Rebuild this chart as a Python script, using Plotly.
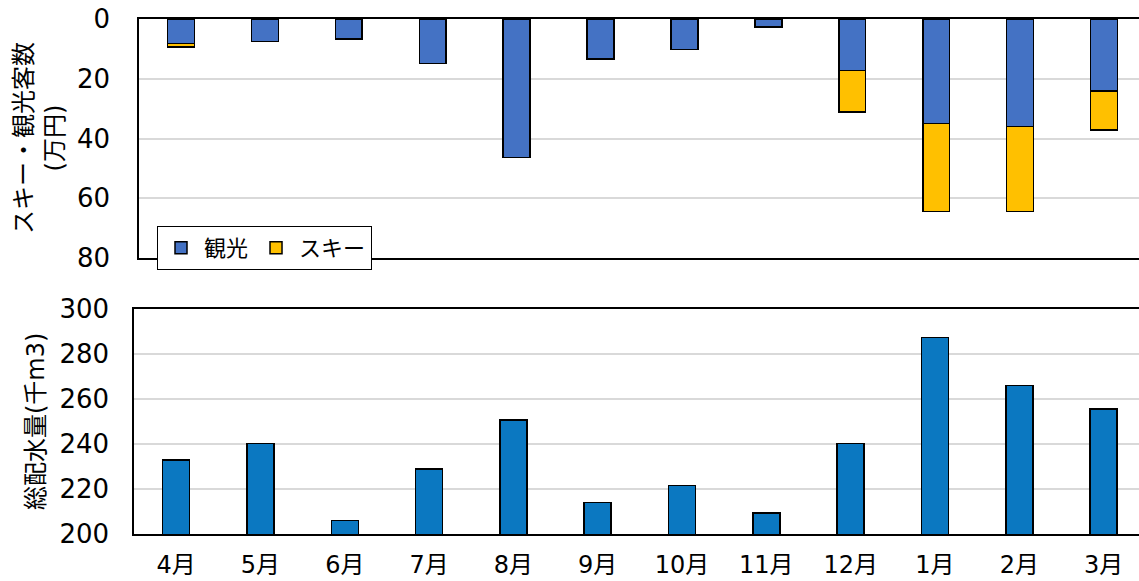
import plotly.graph_objects as go

months = ["4月", "5月", "6月", "7月", "8月", "9月", "10月", "11月", "12月", "1月", "2月", "3月"]
kanko = [8.2, 7.6, 6.7, 14.9, 46.4, 13.4, 10.2, 2.6, 17.3, 35.0, 36.0, 24.1]
ski = [1.1, 0, 0, 0, 0, 0, 0, 0, 13.8, 29.4, 28.4, 13.1]
water = [233.0, 240.3, 205.9, 228.9, 250.6, 214.0, 221.5, 209.3, 240.3, 287.3, 266.1, 255.5]

top_title = "スキー・観光客数<br>(万円)"
bottom_title = "総配水量(千m3)"

FONT = "DejaVu Sans, Noto Sans CJK JP"
W, H = 1139, 581


def px(x):
    return x / W


def py(y):
    return 1 - y / H


fig = go.Figure()
line = dict(color="black", width=1.5)
fig.add_trace(go.Bar(x=months, y=kanko, name="観光", marker=dict(color="#4472C4", line=line),
                     width=0.32, xaxis="x", yaxis="y"))
fig.add_trace(go.Bar(x=months, y=ski, name="スキー", marker=dict(color="#FFC000", line=line),
                     width=0.32, xaxis="x", yaxis="y"))
fig.add_trace(go.Bar(x=months, y=water, name="総配水量", marker=dict(color="#0B78C1", line=line),
                     width=0.32, xaxis="x2", yaxis="y2", showlegend=False))

ytickfont = dict(family=FONT, size=26, color="black")
xtickfont = dict(family=FONT, size=24, color="black")
fig.update_layout(
    width=W, height=H, margin=dict(l=0, r=0, t=0, b=0),
    paper_bgcolor="white", plot_bgcolor="white",
    barmode="stack", font=dict(family=FONT, color="black"),
    xaxis=dict(domain=[px(139), 1], anchor="y", range=[-0.5, 11.417], showticklabels=False,
               showline=True, linecolor="black", linewidth=1.5, mirror=True, ticks="",
               automargin=False),
    yaxis=dict(domain=[py(258), py(19)], anchor="x", range=[80, 0],
               tickvals=[0, 20, 40, 60, 80], tickfont=ytickfont,
               showgrid=True, gridcolor="#D9D9D9", gridwidth=1.5,
               showline=True, linecolor="black", linewidth=1.5, zeroline=False,
               ticklabelstandoff=22, automargin=False, ticklabeloverflow="allow"),
    xaxis2=dict(domain=[px(134), 1], anchor="y2", range=[-0.5, 11.42], tickfont=xtickfont,
                showline=True, linecolor="black", linewidth=1.5, mirror=True, ticks="",
                ticklabelstandoff=8, automargin=False),
    yaxis2=dict(domain=[py(534), py(309)], anchor="x2", range=[200, 300],
                tickvals=[200, 220, 240, 260, 280, 300], tickfont=ytickfont,
                showgrid=True, gridcolor="#D9D9D9", gridwidth=1.5,
                showline=True, linecolor="black", linewidth=1.5, zeroline=False,
                ticklabelstandoff=18, automargin=False),
    legend=dict(orientation="h", x=px(157), y=py(226), xanchor="left", yanchor="top",
                bgcolor="white", bordercolor="black", borderwidth=1,
                font=dict(family=FONT, size=22), traceorder="normal",
                itemwidth=36, tracegroupgap=0),
    annotations=[
        dict(text=top_title, xref="paper", yref="paper", x=px(40), y=py(138),
             xanchor="center", yanchor="middle", textangle=-90, showarrow=False,
             font=dict(family=FONT, size=24, color="black")),
        dict(text=bottom_title, xref="paper", yref="paper", x=px(36), y=py(422),
             xanchor="center", yanchor="middle", textangle=-90, showarrow=False,
             font=dict(family=FONT, size=24, color="black")),
    ],
)

fig.write_html("out.html", config={"displayModeBar": False},
               post_script="document.body.style.margin='0px';")
